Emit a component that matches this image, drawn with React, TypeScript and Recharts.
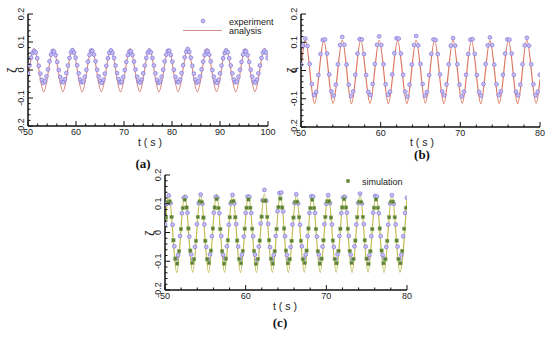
import React from 'react';
import { ComposedChart, Line, Scatter, XAxis, YAxis } from 'recharts';

// ---- panel (a): t = 50..100 s ----
// experiment, sampled every 0.32 s from 50 s
const expA_t0 = 50;
const expA_dt = 0.32;
const expA = [
  -0.012, 0.017, 0.044, 0.061, 0.068, 0.063, 0.042, 0.015, -0.013, -0.035, -0.046, -0.040, -0.023, 0.002, 0.031, 0.055, 0.068, 0.066, 0.053, 0.029, 0.000, -0.025, -0.042, -0.044, -0.033,
  -0.011, 0.016, 0.043, 0.063, 0.071, 0.062, 0.044, 0.017, -0.012, -0.034, -0.044, -0.041, -0.024, 0.001, 0.030, 0.054, 0.069, 0.068, 0.055, 0.031, 0.001, -0.023, -0.040, -0.046, -0.035,
  -0.013, 0.015, 0.042, 0.062, 0.070, 0.061, 0.043, 0.016, -0.011, -0.033, -0.045, -0.042, -0.025, 0.000, 0.029, 0.053, 0.066, 0.067, 0.054, 0.030, 0.002, -0.024, -0.041, -0.045, -0.034,
  -0.012, 0.016, 0.043, 0.062, 0.069, 0.063, 0.043, 0.016, -0.012, -0.035, -0.046, -0.041, -0.024, 0.001, 0.031, 0.055, 0.068, 0.069, 0.054, 0.030, 0.001, -0.025, -0.042, -0.044, -0.034,
  -0.011, 0.017, 0.045, 0.065, 0.075, 0.065, 0.044, 0.015, -0.013, -0.034, -0.045, -0.040, -0.023, 0.002, 0.030, 0.054, 0.067, 0.068, 0.055, 0.031, 0.000, -0.024, -0.041, -0.046, -0.035,
  -0.012, 0.016, 0.042, 0.061, 0.070, 0.063, 0.042, 0.016, -0.012, -0.034, -0.044, -0.041, -0.024, 0.001, 0.029, 0.055, 0.068, 0.067, 0.053, 0.029, 0.001, -0.024, -0.042, -0.045, -0.034,
  -0.012, 0.016, 0.043, 0.062, 0.069, 0.062, 0.043,
];
// analysis: start, crests / troughs, end
const anaA_t = [50, 51.28, 53.28, 55.28, 57.28, 59.28, 61.28, 63.28, 65.28, 67.28, 69.28, 71.28, 73.28, 75.28, 77.28, 79.28, 81.28, 83.28, 85.28, 87.28, 89.28, 91.28, 93.28, 95.28, 97.28, 99.28, 100];
const anaA_v = [-0.033, 0.076, -0.078, 0.075, -0.077, 0.076, -0.078, 0.076, -0.077, 0.075, -0.078, 0.076, -0.077, 0.076, -0.078, 0.075, -0.077, 0.076, -0.078, 0.076, -0.077, 0.075, -0.078, 0.076, -0.077, 0.076, 0.033];

// ---- panel (b): t = 50..80 s ----
const expB_t0 = 50;
const expB_dt = 0.2726;
const expB = [
  0.021, 0.088, 0.113, 0.087, 0.023, -0.048, -0.087, -0.076, -0.016, 0.058, 0.108, 0.110, 0.060, -0.014, -0.074, -0.089, -0.050,
  0.022, 0.090, 0.119, 0.091, 0.021, -0.050, -0.090, -0.074, -0.015, 0.060, 0.111, 0.110, 0.058, -0.016, -0.076, -0.087, -0.048,
  0.023, 0.091, 0.121, 0.090, 0.022, -0.049, -0.086, -0.075, -0.014, 0.061, 0.114, 0.113, 0.060, -0.015, -0.075, -0.092, -0.050,
  0.021, 0.090, 0.122, 0.089, 0.023, -0.048, -0.089, -0.076, -0.016, 0.059, 0.110, 0.108, 0.058, -0.014, -0.074, -0.088, -0.049,
  0.022, 0.088, 0.115, 0.088, 0.022, -0.050, -0.091, -0.075, -0.015, 0.058, 0.109, 0.111, 0.059, -0.016, -0.076, -0.089, -0.048,
  0.023, 0.089, 0.117, 0.090, 0.021, -0.049, -0.087, -0.074, -0.015, 0.060, 0.110, 0.109, 0.060, -0.015, -0.075, -0.088, -0.050,
  0.022, 0.089, 0.116, 0.088, 0.022, -0.049, -0.088, -0.075, -0.015,
];
const anaB_t = [50, 50.55, 51.7, 52.86, 54.02, 55.18, 56.34, 57.5, 58.66, 59.82, 60.97, 62.13, 63.29, 64.45, 65.61, 66.77, 67.93, 69.08, 70.24, 71.4, 72.56, 73.72, 74.88, 76.04, 77.19, 78.35, 79.51, 80];
const anaB_v = [0.005, 0.107, -0.117, 0.106, -0.116, 0.107, -0.117, 0.108, -0.116, 0.107, -0.117, 0.106, -0.117, 0.107, -0.116, 0.107, -0.117, 0.108, -0.116, 0.107, -0.117, 0.106, -0.116, 0.107, -0.117, 0.107, -0.116, -0.032];

// ---- panel (c): t = 50..80 s ----
const expC_t0 = 50;
const expC_dt = 0.2325;
const expC = [
  0.028, 0.100, 0.129, 0.102, 0.027, -0.048, -0.091, -0.078, -0.012, 0.067, 0.121, 0.123, 0.069, -0.014, -0.076, -0.093, -0.050,
  0.029, 0.102, 0.132, 0.100, 0.028, -0.050, -0.093, -0.076, -0.013, 0.069, 0.124, 0.121, 0.067, -0.012, -0.078, -0.091, -0.048,
  0.027, 0.101, 0.131, 0.101, 0.029, -0.049, -0.092, -0.077, -0.014, 0.068, 0.125, 0.124, 0.068, -0.013, -0.077, -0.094, -0.049,
  0.031, 0.112, 0.148, 0.110, 0.030, -0.051, -0.094, -0.078, -0.012, 0.074, 0.137, 0.139, 0.073, -0.013, -0.078, -0.093, -0.050,
  0.028, 0.102, 0.133, 0.101, 0.027, -0.048, -0.091, -0.077, -0.013, 0.068, 0.126, 0.125, 0.068, -0.014, -0.076, -0.092, -0.049,
  0.029, 0.100, 0.130, 0.102, 0.028, -0.050, -0.093, -0.076, -0.012, 0.067, 0.122, 0.123, 0.069, -0.012, -0.077, -0.093, -0.048,
  0.028, 0.103, 0.135, 0.101, 0.029, -0.049, -0.092, -0.078, -0.013, 0.069, 0.127, 0.125, 0.067, -0.013, -0.078, -0.091, -0.050,
  0.027, 0.101, 0.130, 0.100, 0.028, -0.049, -0.092, -0.077, -0.013, 0.068, 0.121,
];
// simulation, sampled half a step after the experiment
const simC_t0 = 50.116;
const simC_dt = 0.2325;
const simC = [
  0.052, 0.106, 0.108, 0.054, -0.027, -0.091, -0.108, -0.065, 0.012, 0.085, 0.114, 0.087, 0.014, -0.063, -0.106, -0.093, -0.029,
  0.054, 0.108, 0.106, 0.052, -0.029, -0.093, -0.106, -0.063, 0.014, 0.087, 0.116, 0.085, 0.012, -0.065, -0.108, -0.091, -0.027,
  0.053, 0.107, 0.109, 0.053, -0.028, -0.092, -0.107, -0.064, 0.013, 0.086, 0.115, 0.086, 0.013, -0.064, -0.109, -0.092, -0.028,
  0.055, 0.110, 0.111, 0.054, -0.027, -0.091, -0.108, -0.065, 0.012, 0.088, 0.118, 0.087, 0.014, -0.063, -0.107, -0.093, -0.029,
  0.052, 0.106, 0.107, 0.053, -0.029, -0.093, -0.106, -0.063, 0.014, 0.085, 0.114, 0.085, 0.012, -0.065, -0.108, -0.091, -0.027,
  0.054, 0.108, 0.108, 0.052, -0.028, -0.092, -0.107, -0.064, 0.013, 0.087, 0.116, 0.087, 0.013, -0.064, -0.106, -0.092, -0.028,
  0.053, 0.107, 0.106, 0.054, -0.027, -0.091, -0.109, -0.065, 0.012, 0.086, 0.115, 0.086, 0.014, -0.063, -0.107, -0.093, -0.029,
  0.053, 0.107, 0.107, 0.053, -0.028, -0.092, -0.107, -0.064, 0.013, 0.086,
];
const anaC_t = [50, 50.47, 51.45, 52.44, 53.43, 54.42, 55.41, 56.39, 57.38, 58.37, 59.36, 60.35, 61.34, 62.32, 63.31, 64.3, 65.29, 66.28, 67.26, 68.25, 69.24, 70.23, 71.22, 72.2, 73.19, 74.18, 75.17, 76.16, 77.15, 78.13, 79.12, 80];
const anaC_v = [0.01, 0.133, -0.139, 0.132, -0.138, 0.133, -0.139, 0.134, -0.138, 0.133, -0.139, 0.132, -0.139, 0.134, -0.138, 0.133, -0.139, 0.132, -0.138, 0.133, -0.139, 0.134, -0.138, 0.133, -0.139, 0.132, -0.138, 0.133, -0.139, 0.133, -0.138, 0.125];

// ---- axes ----
const xTicksA = [50, 52, 54, 56, 58, 60, 62, 64, 66, 68, 70, 72, 74, 76, 78, 80, 82, 84, 86, 88, 90, 92, 94, 96, 98, 100];
const xTicksBC = [50, 52, 54, 56, 58, 60, 62, 64, 66, 68, 70, 72, 74, 76, 78, 80];
const yTicks = [-0.2, -0.18, -0.16, -0.14, -0.12, -0.1, -0.08, -0.06, -0.04, -0.02, 0, 0.02, 0.04, 0.06, 0.08, 0.1, 0.12, 0.14, 0.16, 0.18, 0.2];

const FONT = "'Liberation Sans', Arial, sans-serif";
const AXIS = '#111';
const CIRCLE_STROKE = '#7f72da';
const CIRCLE_FILL = '#c6bff3';
const SIM_FILL = '#5d7f3c';
const SIM_STROKE = '#93b25f';
const LINE_A = '#d98e86';
const LINE_B = '#dc7862';
const LINE_C = '#c2bb4e';

const sampled = (t0: number, dt: number, vals: number[]) =>
  vals.map((v, i) => ({ t: +(t0 + i * dt).toFixed(3), v }));
const paired = (ts: number[], vs: number[]) => ts.map((t, i) => ({ t, v: vs[i] }));

function XTick({ x, y, payload }: any) {
  const v = payload.value;
  const major = v % 10 === 0;
  return (
    <g>
      <line x1={x} x2={x} y1={y} y2={y - (major ? 5 : 2.5)} stroke={AXIS} strokeWidth={1} />
      {major && (
        <text x={x} y={y + 8.5} textAnchor="middle" fontSize={9} fill="#222" fontFamily={FONT}>
          {v}
        </text>
      )}
    </g>
  );
}

function YTick({ x, y, payload }: any) {
  const v = payload.value;
  const major = Math.abs(v * 10 - Math.round(v * 10)) < 1e-6;
  const label = Math.abs(v) < 1e-9 ? '0' : v.toFixed(1);
  return (
    <g>
      <line x1={x} x2={x + (major ? 5 : 2.5)} y1={y} y2={y} stroke={AXIS} strokeWidth={1} />
      {major && (
        <text
          transform={`translate(${x - 4},${y}) rotate(-90)`}
          textAnchor="middle"
          fontSize={9}
          fill="#222"
          fontFamily={FONT}
        >
          {label}
        </text>
      )}
    </g>
  );
}

const circleShape = (p: any) => (
  <circle cx={p.cx} cy={p.cy} r={1.9} fill={CIRCLE_FILL} stroke={CIRCLE_STROKE} strokeWidth={0.7} />
);
const squareShape = (p: any) => (
  <rect x={p.cx - 1.7} y={p.cy - 1.7} width={3.4} height={3.4} fill={SIM_FILL} stroke={SIM_STROKE} strokeWidth={0.5} />
);

interface PanelProps {
  left: number;
  top: number;
  width: number;
  xAxisHeight: number;
  rightMargin: number;
  xMax: number;
  xTicks: number[];
  lineColor: string;
  analysis: { t: number; v: number }[];
  experiment: { t: number; v: number }[];
  simulation?: { t: number; v: number }[];
}

function Panel(props: PanelProps) {
  return (
    <div style={{ position: 'absolute', left: props.left, top: props.top }}>
      <ComposedChart
        width={props.width}
        height={150}
        margin={{ top: 14, right: props.rightMargin, bottom: 0, left: 0 }}
      >
        <XAxis
          dataKey="t"
          type="number"
          domain={[50, props.xMax]}
          allowDataOverflow
          ticks={props.xTicks}
          interval={0}
          tickSize={0}
          tickMargin={0}
          tickLine={false}
          tick={<XTick />}
          height={props.xAxisHeight}
          axisLine={{ stroke: AXIS, strokeWidth: 1.5 }}
        />
        <YAxis
          dataKey="v"
          type="number"
          domain={[-0.2, 0.2]}
          allowDataOverflow
          ticks={yTicks}
          interval={0}
          tickSize={0}
          tickMargin={0}
          tickLine={false}
          tick={<YTick />}
          width={28}
          axisLine={{ stroke: AXIS, strokeWidth: 1.5 }}
        />
        <Line
          data={props.analysis}
          dataKey="v"
          type="monotone"
          stroke={props.lineColor}
          strokeWidth={1.2}
          dot={false}
          isAnimationActive={false}
        />
        <Scatter data={props.experiment} dataKey="v" shape={circleShape} isAnimationActive={false} />
        {props.simulation && (
          <Scatter data={props.simulation} dataKey="v" shape={squareShape} isAnimationActive={false} />
        )}
      </ComposedChart>
    </div>
  );
}

export default function App() {
  return (
    <div
      style={{
        position: 'absolute',
        left: 0,
        top: 0,
        width: 550,
        height: 337,
        background: '#fff',
        overflow: 'hidden',
      }}
    >
      <Panel
        left={0}
        top={0}
        width={280}
        xAxisHeight={24}
        rightMargin={12}
        xMax={100}
        xTicks={xTicksA}
        lineColor={LINE_A}
        analysis={paired(anaA_t, anaA_v)}
        experiment={sampled(expA_t0, expA_dt, expA)}
      />
      <Panel
        left={273}
        top={0}
        width={277}
        xAxisHeight={23}
        rightMargin={10}
        xMax={80}
        xTicks={xTicksBC}
        lineColor={LINE_B}
        analysis={paired(anaB_t, anaB_v)}
        experiment={sampled(expB_t0, expB_dt, expB)}
      />
      <Panel
        left={137}
        top={161}
        width={280}
        xAxisHeight={21}
        rightMargin={10}
        xMax={80}
        xTicks={xTicksBC}
        lineColor={LINE_C}
        analysis={paired(anaC_t, anaC_v)}
        experiment={sampled(expC_t0, expC_dt, expC)}
        simulation={sampled(simC_t0, simC_dt, simC)}
      />

      <svg
        width={550}
        height={337}
        style={{ position: 'absolute', left: 0, top: 0, pointerEvents: 'none' }}
      >
        <g fontFamily={FONT} fill="#222">
          <text transform="translate(15.5,70) rotate(-90)" textAnchor="middle" fontSize={12}>ζ</text>
          <text transform="translate(295.5,70) rotate(-90)" textAnchor="middle" fontSize={12}>ζ</text>
          <text transform="translate(154,233) rotate(-90)" textAnchor="middle" fontSize={12}>ζ</text>

          <text x={150} y={146} textAnchor="middle" fontSize={10.5}>t ( s )</text>
          <text x={422} y={146} textAnchor="middle" fontSize={10.5}>t ( s )</text>
          <text x={285} y={310} textAnchor="middle" fontSize={10.5}>t ( s )</text>

          {/* legend (a) */}
          <circle cx={203} cy={21} r={1.9} fill={CIRCLE_FILL} stroke={CIRCLE_STROKE} strokeWidth={0.7} />
          <text x={229} y={24.5} fontSize={9}>experiment</text>
          <line x1={183} x2={222} y1={30.5} y2={30.5} stroke={LINE_A} strokeWidth={1.2} />
          <text x={229} y={34} fontSize={9}>analysis</text>

          {/* legend (c) */}
          <rect x={346.3} y={179.3} width={3.4} height={3.4} fill={SIM_FILL} stroke={SIM_STROKE} strokeWidth={0.5} />
          <text x={362} y={184.5} fontSize={9}>simulation</text>
        </g>
        <g fontFamily="'Liberation Serif', 'Times New Roman', serif" fontWeight="bold" fill="#111" fontSize={13}>
          <text x={143} y={168} textAnchor="middle">(a)</text>
          <text x={422} y={159} textAnchor="middle">(b)</text>
          <text x={280} y={327} textAnchor="middle">(c)</text>
        </g>
      </svg>
    </div>
  );
}
